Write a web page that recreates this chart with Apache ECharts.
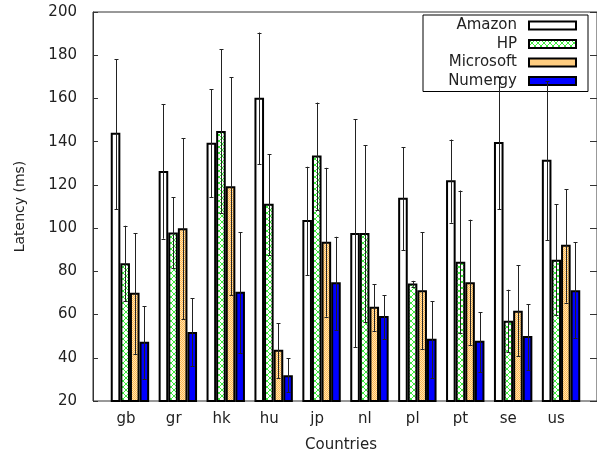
<!DOCTYPE html>
<html>
<head>
<meta charset="utf-8">
<script src="https://cdn.jsdelivr.net/npm/echarts@6/dist/echarts.min.js"></script>
<style>html,body{margin:0;padding:0;background:#fff;}#c{width:597px;height:458px;}</style>
</head>
<body>
<div id="c"></div>
<script>
var categories = ['gb', 'gr', 'hk', 'hu', 'jp', 'nl', 'pl', 'pt', 'se', 'us'];
var yTicks = [20, 40, 60, 80, 100, 120, 140, 160, 180, 200];
var seriesNames = ['Amazon', 'HP', 'Microsoft', 'Numergy'];

var amazon     = [144.1, 126.4, 139.5, 160.3, 103.7, 97.7, 114.0, 122.2, 139.9, 131.6];
var amazonLow  = [108.7, 95.1, 114.2, 129.6, 78.3, 45.0, 89.8, 102.5, 108.7, 94.5];
var amazonHigh = [178.2, 157.4, 164.2, 190.5, 128.4, 150.3, 137.5, 141.0, 170.0, 168.0];
var hp     = [83.7, 98.0, 144.9, 111.3, 133.6, 97.7, 74.4, 84.4, 57.1, 85.4];
var hpLow  = [66.2, 81.5, 106.8, 87.4, 108.3, 56.4, 72.9, 51.3, 42.5, 59.8];
var hpHigh = [101.1, 114.2, 182.8, 134.2, 158.1, 138.3, 75.6, 117.4, 71.5, 111.0];
var microsoft     = [70.1, 99.9, 119.4, 43.7, 93.7, 63.6, 71.3, 75.0, 61.8, 92.3];
var microsoftLow  = [41.6, 57.8, 68.9, 30.6, 59.0, 52.4, 44.0, 45.9, 40.7, 65.5];
var microsoftHigh = [97.6, 141.5, 169.7, 55.9, 127.9, 74.0, 98.0, 103.9, 82.9, 117.9];
var numergy     = [47.4, 51.9, 70.6, 31.9, 75.0, 59.3, 48.8, 47.9, 50.1, 71.3];
var numergyLow  = [30.2, 36.2, 42.1, 24.0, 52.7, 48.5, 30.5, 33.4, 34.3, 49.0];
var numergyHigh = [63.9, 67.5, 98.0, 39.7, 96.0, 68.9, 66.1, 61.0, 64.7, 93.4];

var values = [amazon, hp, microsoft, numergy];
var lows = [amazonLow, hpLow, microsoftLow, numergyLow];
var highs = [amazonHigh, hpHigh, microsoftHigh, numergyHigh];

function hatchPattern() {
  var c = document.createElement('canvas'); c.width = 6; c.height = 6;
  var g = c.getContext('2d');
  g.fillStyle = '#ffffff'; g.fillRect(0, 0, 6, 6);
  g.strokeStyle = '#3cec3c'; g.lineWidth = 1;
  g.beginPath(); g.moveTo(0, 0); g.lineTo(6, 6); g.moveTo(0, 6); g.lineTo(6, 0); g.stroke();
  return c;
}
function ditherPattern() {
  var c = document.createElement('canvas'); c.width = 2; c.height = 2;
  var g = c.getContext('2d');
  g.fillStyle = '#ffe3b0'; g.fillRect(0, 0, 2, 2);
  g.fillStyle = '#ffb850'; g.fillRect(0, 0, 1, 1); g.fillRect(1, 1, 1, 1);
  return c;
}
var fills = ['#ffffff', { image: hatchPattern(), repeat: 'repeat' }, { image: ditherPattern(), repeat: 'repeat' }, '#0000ff'];

var BW = 9.6;
var FONT = 'DejaVu Sans';
var TXT = '#222';
var LINE = '#333';
var FS = 15;

var series = [];
seriesNames.forEach(function (name, j) {
  series.push({
    name: name, type: 'bar', xAxisIndex: 1, yAxisIndex: 2,
    barWidth: BW, barGap: '0%',
    data: values[j],
    itemStyle: { color: fills[j], borderColor: '#000', borderWidth: 2 },
    z: 2
  });
});
seriesNames.forEach(function (name, j) {
  series.push({
    type: 'custom', xAxisIndex: 1, yAxisIndex: 2, z: 5, silent: true,
    data: categories.map(function (c, i) { return [i, lows[j][i], highs[j][i]]; }),
    encode: { x: 0, y: [1, 2] },
    renderItem: function (params, api) {
      var lo = api.coord([api.value(0), api.value(1)]);
      var hi = api.coord([api.value(0), api.value(2)]);
      var x = Math.round(lo[0] + (j - 1.5) * BW) + 0.5;
      var st = { stroke: '#222', lineWidth: 1 };
      return { type: 'group', children: [
        { type: 'line', shape: { x1: x, y1: lo[1], x2: x, y2: hi[1] }, style: st },
        { type: 'line', shape: { x1: x - 2, y1: Math.round(lo[1]) + 0.5, x2: x + 2, y2: Math.round(lo[1]) + 0.5 }, style: st },
        { type: 'line', shape: { x1: x - 2, y1: Math.round(hi[1]) + 0.5, x2: x + 2, y2: Math.round(hi[1]) + 0.5 }, style: st }
      ] };
    }
  });
});

var chart = echarts.init(document.getElementById('c'), null, { renderer: 'canvas' });
chart.setOption({
  animation: false,
  backgroundColor: '#fff',
  textStyle: { fontFamily: FONT },
  grid: [
    { left: 93, right: -1, top: 12, bottom: 57, show: true, borderColor: LINE, borderWidth: 1 },
    { left: 106, right: 12, top: 12, bottom: 57 },
    { left: 102, right: 17, top: 12, bottom: 57 }
  ],
  xAxis: [
    { gridIndex: 0, type: 'value', min: 0, max: 1, show: false },
    { gridIndex: 1, type: 'category', data: categories, show: false },
    { gridIndex: 2, type: 'category', data: categories, position: 'bottom',
      axisLine: { show: false }, axisTick: { show: false },
      axisLabel: { fontSize: FS, color: TXT, margin: 11, fontFamily: FONT, interval: 0 },
      name: 'Countries', nameLocation: 'middle', nameGap: 37,
      nameTextStyle: { fontSize: FS, color: TXT, fontFamily: FONT } }
  ],
  yAxis: [
    { gridIndex: 0, type: 'value', min: 20, max: 200, interval: 20, position: 'left',
      axisLine: { show: true, lineStyle: { color: LINE } },
      axisTick: { show: true, inside: true, length: 5, lineStyle: { color: LINE } },
      splitLine: { show: false },
      axisLabel: { fontSize: FS, color: TXT, margin: 16, fontFamily: FONT },
      name: 'Latency (ms)', nameLocation: 'middle', nameGap: 66, nameRotate: 90,
      nameTextStyle: { fontSize: 14, color: TXT, fontFamily: FONT } },
    { gridIndex: 0, type: 'value', min: 20, max: 200, interval: 20, position: 'right',
      axisLine: { show: true, lineStyle: { color: LINE } }, axisLabel: { show: false }, splitLine: { show: false },
      axisTick: { show: true, inside: true, length: 7, lineStyle: { color: LINE } } },
    { gridIndex: 1, type: 'value', min: 20, max: 200, show: false },
    { gridIndex: 2, type: 'value', min: 20, max: 200, show: false }
  ],
  legend: {
    data: seriesNames, orient: 'vertical', left: 423, top: 15, align: 'right',
    padding: [3, 11, 3, 4], itemGap: 3.5, itemWidth: 47, itemHeight: 8,
    borderColor: '#000', borderWidth: 1,
    selectedMode: false, icon: 'rect',
    formatter: function (n) { return '{a|' + n + '}{s| }'; },
    textStyle: { fontFamily: FONT, fontSize: FS, color: TXT,
      rich: { a: { width: 90, align: 'right', fontSize: FS, fontFamily: FONT, color: TXT, lineHeight: 15 },
              s: { width: 7, fontSize: FS, lineHeight: 15 } } }
  },
  series: series
});
</script>
</body>
</html>
